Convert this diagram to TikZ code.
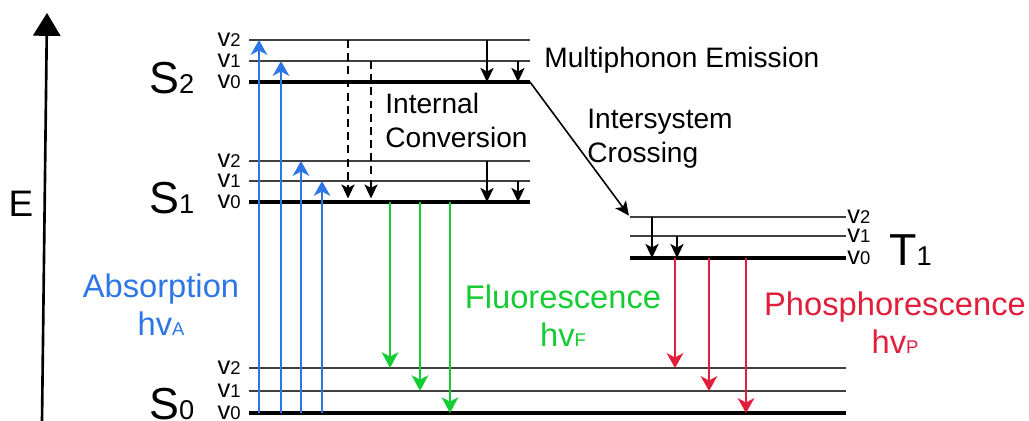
\documentclass[tikz,border=0pt]{standalone}
\usepackage{fontspec}
\setmainfont{Liberation Sans}
\usetikzlibrary{arrows.meta,positioning,calc}
\definecolor{absblue}{RGB}{45,118,230}
\definecolor{fluogreen}{RGB}{20,205,50}
\definecolor{phosred}{RGB}{225,30,60}
\newcommand{\vlev}[1]{v{\fontsize{10.5}{11}\selectfont #1}}
\newcommand{\hvsub}[1]{hv{\fontsize{10.5}{11}\selectfont #1}}
\newcommand{\stname}[2]{#1{\fontsize{15.5}{16}\selectfont #2}}

\begin{document}
\begin{tikzpicture}[x=0.02cm,y=-0.02cm,
	lev/.style={black!75,line width=0.7pt},
	levzero/.style={black,line width=1.9pt},
	vlab/.style={inner sep=0pt,font=\fontsize{14.5}{15}\selectfont},
	statelab/.style={inner sep=0pt,anchor=base west,font=\fontsize{25.5}{26}\selectfont},
	proc/.style={inner sep=0pt,anchor=north west,align=left,font=\fontsize{16}{19.3}\selectfont},
	emis/.style={inner sep=0pt,anchor=north,align=center,font=\fontsize{18.6}{22}\selectfont},
	absorb/.style={absblue,line width=0.9pt,-{Stealth[length=8.5pt,width=9.5pt,inset=2.5pt]}},
	fluo/.style={fluogreen,line width=0.9pt,-{Stealth[length=9pt,width=9.5pt,inset=2.5pt]}},
	phos/.style={phosred,line width=0.9pt,-{Stealth[length=8.5pt,width=9.5pt,inset=2.5pt]}},
	relax/.style={black,line width=0.9pt,-{Stealth[length=8pt,width=7.5pt,inset=2pt]}},
	intconv/.style={relax,dash pattern=on 4.5pt off 3pt,shorten >=2pt}]
	
	\useasboundingbox (0,0) rectangle (1029,420);
	
	\coordinate (Ebot) at (42,422);
	\coordinate (Etop) at (47,13);
	\draw[line width=1.5pt,-{Triangle[length=13pt,width=15.5pt]}] (Ebot) -- (Etop);
	\node[font=\fontsize{21}{21}\selectfont] (Elab) at (21,204) {E};
	
	\foreach \st/\ya/\yb/\yc/\xa/\xb in {S2/40/61/82/249/530,S1/161/181/202/249/530,S0/368/391/413/249/846,T1/217/236/258/630/846}{
		\coordinate (\st v2) at (\xa,\ya);
		\coordinate (\st v2e) at (\xb,\ya);
		\coordinate (\st v1) at (\xa,\yb);
		\coordinate (\st v1e) at (\xb,\yb);
		\coordinate (\st v0) at (\xa,\yc);
		\coordinate (\st v0e) at (\xb,\yc);
		\draw[lev] (\st v2) -- (\st v2e);
		\draw[lev] (\st v1) -- (\st v1e);
		\draw[levzero] (\st v0) -- (\st v0e);
	}
	
	\foreach \st in {S2,S1,S0}
	\foreach \v in {2,1,0}
	\node[vlab,anchor=east] (\st lab\v) at ($(\st v\v)+(-8,0)$) {\vlev{\v}};
	
	\foreach \v in {2,1,0}
	\node[vlab,anchor=west] (T1lab\v) at ($(T1v\v e)+(1,0)$) {\vlev{\v}};
	
	\node[statelab] (S2lab) at (149,93) {\stname{S}{2}};
	\node[statelab] (S1lab) at (149,213) {\stname{S}{1}};
	\node[statelab] (S0lab) at (149,419) {\stname{S}{0}};
	\node[statelab] (T1lab) at (889,265) {\stname{T}{1}};
	
	\foreach \x/\a/\b in {259/S0v0/S2v2,281/S0v0/S2v1,301/S0v0/S1v2,322/S0v0/S1v1}
	\draw[absorb] (\x,0 |- \a) -- (\x,0 |- \b);
	
	\foreach \x/\a/\b in {348/S2v2/S1v0,371/S2v1/S1v0}
	\draw[intconv] (\x,0 |- \a) -- (\x,0 |- \b);
	
	\foreach \x/\a/\b in {487/S2v2/S2v0,518/S2v1/S2v0,487/S1v2/S1v0,518/S1v1/S1v0,652/T1v2/T1v0,677/T1v1/T1v0}
	\draw[relax] (\x,0 |- \a) -- (\x,0 |- \b);
	
	\draw[relax,shorten >=1pt] (S2v0e) -- (T1v2);
	
	\foreach \x/\a/\b in {390/S1v0/S0v2,420/S1v0/S0v1,450/S1v0/S0v0}
	\draw[fluo] (\x,0 |- \a) -- (\x,0 |- \b);
	
	\foreach \x/\a/\b in {675/T1v0/S0v2,709/T1v0/S0v1,746/T1v0/S0v0}
	\draw[phos] (\x,0 |- \a) -- (\x,0 |- \b);
	
	\node[font=\fontsize{16}{19.3}\selectfont,anchor=base west,inner sep=0pt] (mpe) at (544,67) {Multiphonon Emission};
	\node[proc] (icl) at (385,93) {Internal\\Conversion};
	\node[proc] (iscl) at (587,109) {Intersystem\\Crossing};
	
	\node[emis,absblue] (absl) at (161,273) {Absorption\\\hvsub{A}};
	\node[emis,fluogreen] (fluol) at (563,284) {Fluorescence\\\hvsub{F}};
	\node[emis,phosred] (phosl) at (895,291) {Phosphorescence\\\hvsub{P}};
	
\end{tikzpicture}
\end{document}
